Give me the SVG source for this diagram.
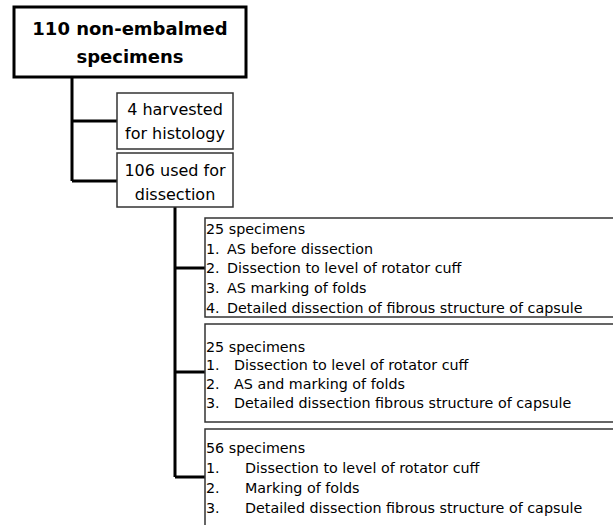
<svg xmlns="http://www.w3.org/2000/svg" width="613" height="525" viewBox="0 0 613 525">
<style>
.box{fill:#fff;stroke:#333;stroke-width:1.5}
.main{fill:#fff;stroke:#000;stroke-width:3}
.conn{fill:none;stroke:#000;stroke-width:3}
text{font-family:"DejaVu Sans","Verdana",sans-serif;fill:#000}
.t{font-size:16px;text-anchor:middle}
.h{font-size:18px;font-weight:bold;text-anchor:middle}
.s{font-size:14.3px}
</style>
<rect width="613" height="525" fill="#fff"/>
<g id="connectors">
<path class="conn" d="M72,77 V181 M72,121 H117 M72,181 H117"/>
<path class="conn" d="M175,207 V477 M175,268 H205 M175,372 H205 M175,477 H205"/>
</g>
<g id="n0">
<rect class="main" x="14" y="7" width="232" height="70"/>
<text class="h" x="130" y="35">110 non-embalmed</text>
<text class="h" x="130" y="63">specimens</text>
</g>
<g id="n1">
<rect class="box" x="117" y="93" width="116" height="56"/>
<text class="t" x="175" y="115">4 harvested</text>
<text class="t" x="175" y="139">for histology</text>
</g>
<g id="n2">
<rect class="box" x="117" y="153" width="116" height="54"/>
<text class="t" x="175" y="176">106 used for</text>
<text class="t" x="175" y="200">dissection</text>
</g>
<g id="n3">
<rect class="box" x="205" y="218" width="420" height="99"/>
<text class="s" x="206" y="234">25 specimens</text>
<text class="s" x="206" y="254">1.</text><text class="s" x="227" y="254">AS before dissection</text>
<text class="s" x="206" y="273">2.</text><text class="s" x="227" y="273">Dissection to level of rotator cuff</text>
<text class="s" x="206" y="293">3.</text><text class="s" x="227" y="293">AS marking of folds</text>
<text class="s" x="206" y="313">4.</text><text class="s" x="227" y="313">Detailed dissection of fibrous structure of capsule</text>
</g>
<g id="n4">
<rect class="box" x="205" y="324" width="420" height="98"/>
<text class="s" x="206" y="352">25 specimens</text>
<text class="s" x="206" y="370">1.</text><text class="s" x="234" y="370">Dissection to level of rotator cuff</text>
<text class="s" x="206" y="389">2.</text><text class="s" x="234" y="389">AS and marking of folds</text>
<text class="s" x="206" y="408">3.</text><text class="s" x="234" y="408">Detailed dissection fibrous structure of capsule</text>
</g>
<g id="n5">
<rect class="box" x="205" y="429" width="420" height="110"/>
<text class="s" x="206" y="453">56 specimens</text>
<text class="s" x="206" y="473">1.</text><text class="s" x="245" y="473">Dissection to level of rotator cuff</text>
<text class="s" x="206" y="493">2.</text><text class="s" x="245" y="493">Marking of folds</text>
<text class="s" x="206" y="513">3.</text><text class="s" x="245" y="513">Detailed dissection fibrous structure of capsule</text>
</g>
</svg>
